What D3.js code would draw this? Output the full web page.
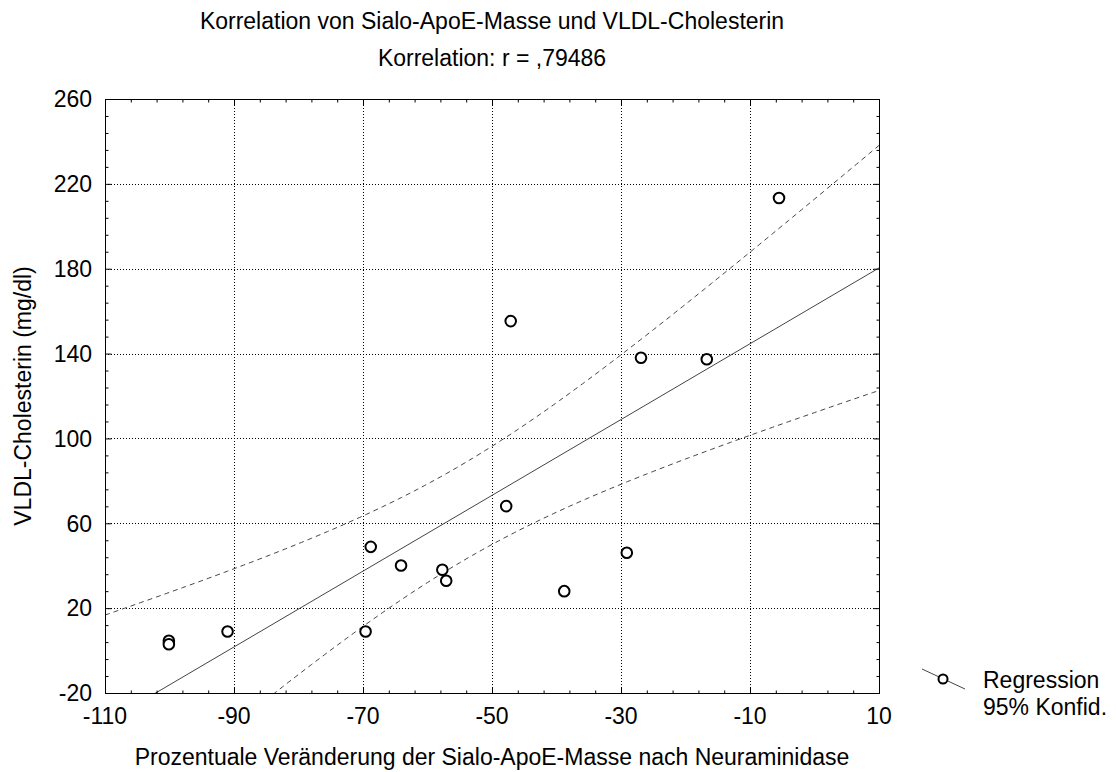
<!DOCTYPE html>
<html>
<head>
<meta charset="utf-8">
<script src="https://cdn.jsdelivr.net/npm/d3@7"></script>
<style>
  html, body { margin: 0; padding: 0; background: #fff; }
  svg { display: block; }
  text { font-family: "Liberation Sans", Arial, Helvetica, sans-serif; fill: #000; }
</style>
</head>
<body>
<svg id="chart" width="1116" height="772"></svg>
<script>
// ---- data ----
const xValues = [-5.5, -47.1, -26.9, -16.7, -47.8, -29.1, -68.8, -64.1, -57.7, -57.1, -38.8, -91.0, -69.6, -100.1, -100.1];
const yValues = [213.3, 155.3, 138.0, 137.3, 68.1, 46.1, 48.9, 40.1, 38.1, 32.9, 28.0, 9.0, 9.0, 4.6, 3.0];
const xTicks = [-110, -90, -70, -50, -30, -10, 10];
const yTicks = [-20, 20, 60, 100, 140, 180, 220, 260];
const titleLines = ["Korrelation von Sialo-ApoE-Masse und VLDL-Cholesterin", "Korrelation: r = ,79486"];
const xLabel = "Prozentuale Veränderung der Sialo-ApoE-Masse nach Neuraminidase";
const yLabel = "VLDL-Cholesterin (mg/dl)";
const legendLabels = ["Regression", "95% Konfid."];
const tCrit = 2.1604; // t(0.975, df = 13)

// ---- layout ----
const svg = d3.select("#chart");
const L = 105, R = 879, T = 99, B = 693;
const FS = 23;

const x = d3.scaleLinear().domain([-110, 10]).range([L, R]);
const y = d3.scaleLinear().domain([-20, 260]).range([B, T]);

// ---- regression stats ----
const n = xValues.length;
const mx = d3.mean(xValues), my = d3.mean(yValues);
let sxx = 0, sxy = 0, syy = 0;
for (let i = 0; i < n; i++) {
  const dx = xValues[i] - mx, dy = yValues[i] - my;
  sxx += dx * dx; sxy += dx * dy; syy += dy * dy;
}
const slope = sxy / sxx;
const icpt = my - slope * mx;
const se = Math.sqrt((syy - slope * sxy) / (n - 2));
const fit = v => icpt + slope * v;
const half = v => tCrit * se * Math.sqrt(1 / n + (v - mx) * (v - mx) / sxx);

// clip
svg.append("defs").append("clipPath").attr("id", "plotclip")
  .append("rect").attr("x", L).attr("y", T).attr("width", R - L).attr("height", B - T);

// ---- grid ----
const grid = svg.append("g").attr("stroke", "#000").attr("stroke-width", 1).attr("stroke-dasharray", "1,2");
grid.selectAll("line.v").data(xTicks.slice(1, -1)).enter().append("line")
  .attr("x1", d => Math.round(x(d)) + 0.5).attr("x2", d => Math.round(x(d)) + 0.5)
  .attr("y1", T).attr("y2", B);
grid.selectAll("line.h").data(yTicks.slice(1, -1)).enter().append("line")
  .attr("y1", d => Math.round(y(d)) + 0.5).attr("y2", d => Math.round(y(d)) + 0.5)
  .attr("x1", L).attr("x2", R);

// ---- lines ----
const plot = svg.append("g").attr("clip-path", "url(#plotclip)");
const xs = d3.range(-110, 10.001, 0.5);
const lineGen = f => d3.line().x(d => x(d)).y(d => y(f(d)));
plot.append("path").datum([-110, 10]).attr("d", lineGen(fit))
  .attr("fill", "none").attr("stroke", "#444").attr("stroke-width", 1);
plot.append("path").datum(xs).attr("d", lineGen(v => fit(v) + half(v)))
  .attr("fill", "none").attr("stroke", "#444").attr("stroke-width", 1).attr("stroke-dasharray", "5,4");
plot.append("path").datum(xs).attr("d", lineGen(v => fit(v) - half(v)))
  .attr("fill", "none").attr("stroke", "#444").attr("stroke-width", 1).attr("stroke-dasharray", "5,4");

// ---- points ----
svg.append("g").selectAll("circle").data(d3.range(n)).enter().append("circle")
  .attr("cx", i => x(xValues[i])).attr("cy", i => y(yValues[i])).attr("r", 5.3)
  .attr("fill", "#fff").attr("stroke", "#000").attr("stroke-width", 2);

// ---- frame ----
svg.append("rect").attr("x", L + 0.5).attr("y", T + 0.5).attr("width", R - L).attr("height", B - T)
  .attr("fill", "none").attr("stroke", "#000").attr("stroke-width", 1);

// ---- ticks (inward, all four sides) ----
const xMinor = [];
for (let i = 0; i < xTicks.length - 1; i++) for (let k = 1; k < 5; k++) xMinor.push(xTicks[i] + k * (xTicks[i + 1] - xTicks[i]) / 5);
const yMinor = [];
for (let i = 0; i < yTicks.length - 1; i++) for (let k = 1; k < 5; k++) yMinor.push(yTicks[i] + k * (yTicks[i + 1] - yTicks[i]) / 5);
function addAxis(ax, tr) {
  const g = svg.append("g").attr("transform", tr).call(ax);
  g.select(".domain").remove();
  g.selectAll("line").attr("stroke", "#000");
}
addAxis(d3.axisBottom(x).tickValues(xTicks).tickSize(-6).tickFormat(""), `translate(0,${B + 0.5})`);
addAxis(d3.axisTop(x).tickValues(xTicks).tickSize(-6).tickFormat(""), `translate(0,${T + 0.5})`);
addAxis(d3.axisLeft(y).tickValues(yTicks).tickSize(-6).tickFormat(""), `translate(${L + 0.5},0)`);
addAxis(d3.axisRight(y).tickValues(yTicks).tickSize(-6).tickFormat(""), `translate(${R + 0.5},0)`);
addAxis(d3.axisBottom(x).tickValues(xMinor).tickSize(-3).tickFormat(""), `translate(0,${B + 0.5})`);
addAxis(d3.axisTop(x).tickValues(xMinor).tickSize(-3).tickFormat(""), `translate(0,${T + 0.5})`);
addAxis(d3.axisLeft(y).tickValues(yMinor).tickSize(-3).tickFormat(""), `translate(${L + 0.5},0)`);
addAxis(d3.axisRight(y).tickValues(yMinor).tickSize(-3).tickFormat(""), `translate(${R + 0.5},0)`);

// ---- tick labels ----
svg.append("g").selectAll("text").data(xTicks).enter().append("text")
  .attr("x", d => x(d)).attr("y", 724).attr("text-anchor", "middle")
  .attr("font-size", FS).text(d => d);
svg.append("g").selectAll("text").data(yTicks).enter().append("text")
  .attr("x", 92).attr("y", d => y(d)).attr("dy", "0.36em").attr("text-anchor", "end")
  .attr("font-size", FS).text(d => d);

// ---- titles ----
svg.append("text").attr("x", (L + R) / 2).attr("y", 29).attr("text-anchor", "middle")
  .attr("font-size", FS).text(titleLines[0]);
svg.append("text").attr("x", (L + R) / 2).attr("y", 66).attr("text-anchor", "middle")
  .attr("font-size", FS).text(titleLines[1]);
svg.append("text").attr("x", (L + R) / 2).attr("y", 765).attr("text-anchor", "middle")
  .attr("font-size", FS).text(xLabel);
svg.append("text").attr("transform", `translate(31,${(T + B) / 2}) rotate(-90)`)
  .attr("text-anchor", "middle").attr("font-size", FS).text(yLabel);

// ---- legend ----
const lg = svg.append("g");
lg.append("line").attr("x1", 922).attr("y1", 669).attr("x2", 965).attr("y2", 689)
  .attr("stroke", "#444").attr("stroke-width", 1);
lg.append("circle").attr("cx", 943).attr("cy", 679).attr("r", 4.5)
  .attr("fill", "#fff").attr("stroke", "#000").attr("stroke-width", 2);
lg.append("text").attr("x", 983).attr("y", 688).attr("font-size", FS).text(legendLabels[0]);
lg.append("text").attr("x", 983).attr("y", 715).attr("font-size", FS).text(legendLabels[1]);
</script>
</body>
</html>
